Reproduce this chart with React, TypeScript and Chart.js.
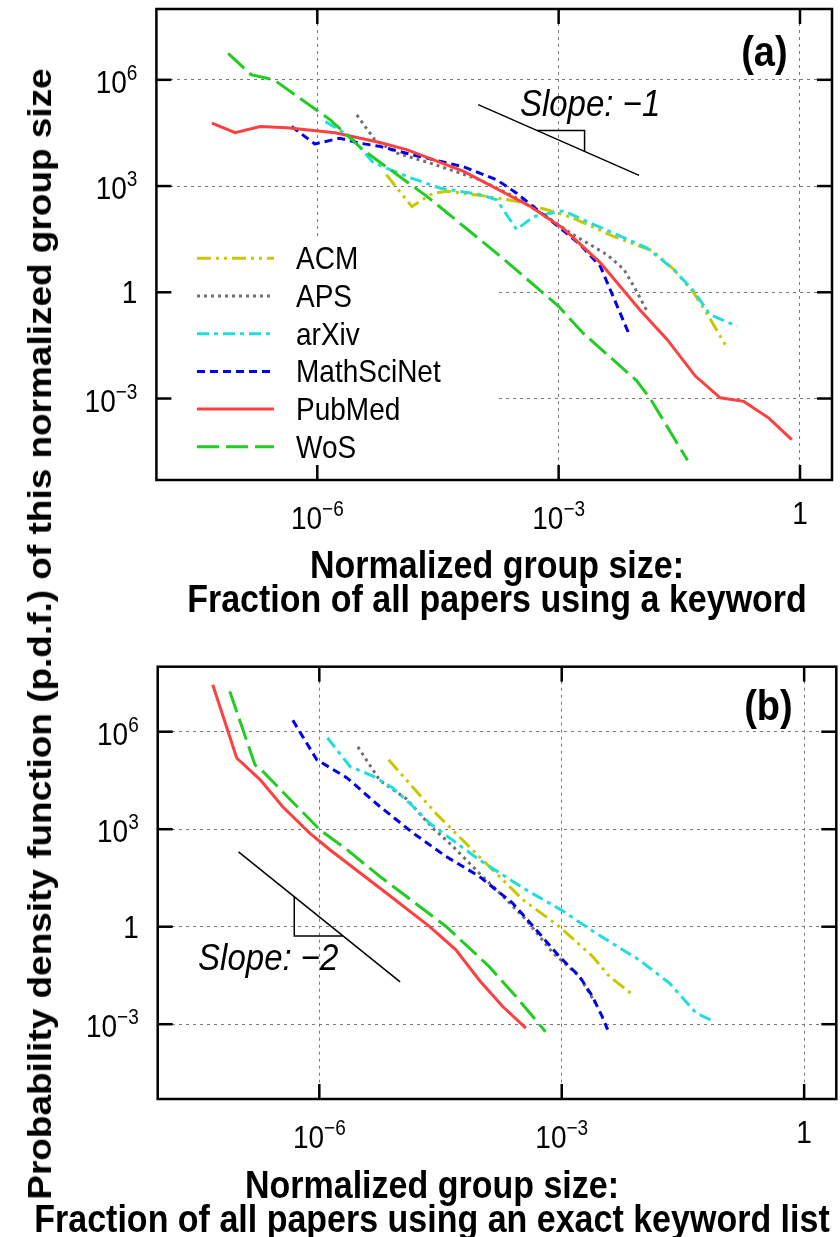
import React, { useEffect, useRef } from 'react';
import { Chart, registerables } from 'chart.js';

Chart.register(...registerables);

// ---------------- data ----------------
const SERIES_NAMES = ['ACM', 'APS', 'arXiv', 'MathSciNet', 'PubMed', 'WoS'];

// Panel (a): fraction of all papers using a keyword
const ACM_A_X = [7.2e-6, 1.5e-5, 2.75e-5, 4.1e-5, 1.3e-4, 3.0e-4, 7.1e-4, 1.5e-3, 4.8e-3, 1.5e-2, 2.7e-2, 4.8e-2, 6.9e-2, 0.118];
const ACM_A_Y = [2100, 263, 631, 708, 513, 372, 214, 126, 38, 14.5, 4.4, 0.95, 0.26, 0.033];

const APS_A_X = [3.1e-6, 5.2e-6, 9.8e-6, 2.5e-5, 1.05e-4, 2.75e-4, 7.1e-4, 1.5e-3, 4.0e-3, 6.5e-3, 9.3e-3, 1.26e-2];
const APS_A_Y = [1.02e5, 2.0e4, 8500, 4500, 1500, 513, 138, 43, 11.5, 4.4, 1.07, 0.29];

const ARXIV_A_X = [1.26e-6, 2.6e-6, 5.0e-6, 1.45e-5, 3.4e-5, 1.05e-4, 1.7e-4, 3.0e-4, 4.9e-4, 1.15e-3, 2.7e-3, 5.2e-3, 1.26e-2, 2.7e-2, 4.8e-2, 7.6e-2, 0.166];
const ARXIV_A_Y = [6.6e4, 2.5e4, 4500, 1700, 871, 575, 407, 59, 138, 200, 83, 43, 17.8, 4.4, 1.07, 0.234, 0.11];

const MSN_A_X = [4.8e-7, 9.3e-7, 1.9e-6, 3.4e-6, 6.0e-6, 1.55e-5, 6.6e-5, 1.7e-4, 3.0e-4, 5.4e-4, 1.0e-3, 1.86e-3, 3.3e-3, 7.4e-3];
const MSN_A_Y = [4.8e4, 1.55e4, 2.24e4, 1.62e4, 1.32e4, 7600, 3500, 1500, 631, 214, 71, 22, 5.4, 0.071];

const PUBMED_A_X = [4.9e-8, 9.5e-8, 1.95e-7, 4.2e-7, 1.66e-6, 6.0e-6, 1.29e-5, 6.6e-5, 4.4e-4, 1.15e-3, 3.3e-3, 1.02e-2, 2.24e-2, 5.0e-2, 0.102, 0.2, 0.41, 0.79];
const PUBMED_A_Y = [6.0e4, 3.2e4, 4.8e4, 4.4e4, 3.2e4, 1.7e4, 1.07e4, 2600, 269, 63, 6.8, 0.32, 0.046, 4.3e-3, 1.05e-3, 8.3e-4, 2.8e-4, 6.9e-5];

const WOS_A_X = [7.8e-8, 1.5e-7, 2.9e-7, 1.45e-6, 3.7e-6, 2.3e-5, 2.0e-4, 1.0e-3, 2.0e-3, 9.3e-3, 1.4e-2, 4.0e-2];
const WOS_A_Y = [5.6e6, 1.4e6, 1.0e6, 7.4e4, 1.05e4, 513, 9.3, 0.4, 0.071, 3.2e-3, 9.3e-4, 1.8e-5];

// Panel (b): fraction of all papers using an exact keyword list
const ACM_B_X = [7.2e-6, 2.8e-5, 9.5e-5, 3.3e-4, 9.3e-4, 2.4e-3, 3.9e-3, 7.1e-3];
const ACM_B_Y = [1.38e5, 3000, 145, 6.8, 1.02, 0.123, 0.0295, 9.1e-3];

const APS_B_X = [3.0e-6, 5.6e-6, 1.2e-5, 2.5e-5, 4.5e-5, 9.5e-5, 1.7e-4, 3.6e-4, 7.8e-4, 1.66e-3, 2.6e-3];
const APS_B_Y = [3.4e5, 3.2e4, 8500, 1120, 295, 44.7, 11, 1.66, 0.155, 0.0295, 4.5e-3];

const ARXIV_B_X = [1.26e-6, 2.4e-6, 4.6e-6, 8.1e-6, 1.45e-5, 2.3e-5, 9.5e-5, 3.6e-4, 9.8e-4, 2.6e-3, 9.1e-3, 2.14e-2, 4.6e-2, 7.6e-2];
const ARXIV_B_Y = [6.5e5, 8.5e4, 4.3e4, 1.86e4, 5000, 1550, 115, 13.8, 3.3, 0.65, 0.095, 0.0186, 2.2e-3, 1.23e-3];

const MSN_B_X = [4.7e-7, 9.3e-7, 2.2e-6, 5.6e-6, 1.45e-5, 3.7e-5, 9.5e-5, 2.45e-4, 5.2e-4, 9.3e-4, 1.66e-3, 2.4e-3, 3.16e-3, 3.7e-3];
const MSN_B_Y = [2.24e6, 1.38e5, 3.8e4, 5000, 759, 145, 35.5, 5.4, 0.65, 0.123, 0.0295, 7.2e-3, 1.74e-3, 6.8e-4];

const PUBMED_B_X = [4.8e-8, 9.5e-8, 1.86e-7, 3.5e-7, 7.6e-7, 1.35e-6, 5.6e-6, 2.3e-5, 4.9e-5, 9.5e-5, 1.86e-4, 3.6e-4];
const PUBMED_B_Y = [2.8e7, 1.55e5, 3.3e4, 5000, 759, 234, 15.5, 1.02, 0.195, 0.023, 3.5e-3, 7.6e-4];

const WOS_B_X = [7.8e-8, 1.6e-7, 2.0e-7, 4.0e-7, 1.02e-6, 2.2e-6, 5.6e-6, 1.2e-5, 3.7e-5, 1.26e-4, 2.7e-4, 6.3e-4];
const WOS_B_Y = [1.74e7, 9.5e4, 6.0e4, 1.02e4, 955, 234, 35.5, 8.5, 1.02, 0.06, 7.2e-3, 5.9e-4];

// slope guides (data coordinates)
const SLOPE_A_X = [1e-4, 1e-2];
const SLOPE_A_Y = [2e5, 2e3];
const TRI_A_X = [5.4e-4, 2.1e-3, 2.1e-3];
const TRI_A_Y = [3.7e4, 3.7e4, 9.5e3];
const SLOPE_B_X = [1e-7, 1e-5];
const SLOPE_B_Y = [200, 0.02];
const TRI_B_X = [4.9e-7, 4.9e-7, 1.95e-6];
const TRI_B_Y = [8.3, 0.52, 0.52];
const SLOPE_TEXT_A = 'Slope: −1';
const SLOPE_TEXT_A_POS = [3.3e-4, 9.5e4];
const SLOPE_TEXT_B = 'Slope: −2';
const SLOPE_TEXT_B_POS = [3.16e-8, 0.047];

// axes
const X_MIN = 1e-8;
const X_MAX = 2.5;
const Y_MIN = 5.0e-6;
const Y_MAX = 1e8;
const X_TICKS = [1e-6, 1e-3, 1];
const X_TICK_LABELS = ['10^−6', '10^−3', '1'];
const Y_TICKS = [1e6, 1e3, 1, 1e-3];
const Y_TICK_LABELS = ['10^6', '10^3', '1', '10^−3'];

const X_TITLE_A = ['Normalized group size:', 'Fraction of all papers using a keyword'];
const X_TITLE_B = ['Normalized group size:', 'Fraction of all papers using an exact keyword list'];
const Y_TITLE = 'Probability density function (p.d.f.) of this normalized group size';

// ---------------- styles ----------------
const SERIES_COLORS = ['#c8c800', '#707070', '#22dddd', '#0000ee', '#ff4040', '#22cc22'];
const SERIES_DASHES: number[][] = [[14, 5, 3, 5, 3, 5], [3, 4], [12, 5, 4, 5], [8, 5], [], [22, 7]];
const FAMILY = "'Liberation Sans', Arial, Helvetica, sans-serif";
const SY = 1.12;
const TICK_FONT = `28px ${FAMILY}`;
const EXP_FONT = `19px ${FAMILY}`;
const TITLE_FONT = `bold 34px ${FAMILY}`;
const LEGEND_FONT = `28px ${FAMILY}`;
const PANEL_FONT = `bold 38px ${FAMILY}`;
const SLOPE_FONT = `italic 33px ${FAMILY}`;

function sText(ctx: CanvasRenderingContext2D, text: string, x: number, y: number, font: string, align: CanvasTextAlign) {
  ctx.save();
  ctx.font = font;
  ctx.textAlign = align;
  ctx.textBaseline = 'alphabetic';
  ctx.fillStyle = '#000';
  ctx.translate(x, y);
  ctx.scale(1, SY);
  ctx.fillText(text, 0, 0);
  ctx.restore();
}

function powLabel(ctx: CanvasRenderingContext2D, label: string, x: number, y: number, align: 'center' | 'right') {
  const [base, exp] = label.split('^');
  ctx.font = TICK_FONT;
  const wb = ctx.measureText(base).width;
  let we = 0;
  if (exp) {
    ctx.font = EXP_FONT;
    we = ctx.measureText(exp).width;
  }
  const total = wb + we;
  const x0 = align === 'center' ? x - total / 2 : x - total;
  sText(ctx, base, x0, y, TICK_FONT, 'left');
  if (exp) sText(ctx, exp, x0 + wb, y - 13, EXP_FONT, 'left');
}

type Panel = {
  key: string;
  sets: [number[], number[]][];
  slope: [number[], number[]];
  tri: [number[], number[]];
  slopeText: string;
  slopeTextPos: number[];
  title: string[];
  titleX: number;
  titleY: number;
  label: string;
  legend: boolean;
  padding: { left: number; top: number; right: number; bottom: number };
};

const pts = (xs: number[], ys: number[]) => xs.map((x, i) => ({ x, y: ys[i] }));

function buildConfig(p: Panel): any {
  const datasets: any[] = p.sets.map(([xs, ys], i) => ({
    label: SERIES_NAMES[i],
    data: pts(xs, ys),
    borderColor: SERIES_COLORS[i],
    borderDash: SERIES_DASHES[i],
    borderWidth: 3,
    borderCapStyle: 'butt',
    showLine: true,
    pointRadius: 0,
    fill: false,
    tension: 0,
    order: 10 - i,
  }));
  datasets.push({ label: 'slope', data: pts(p.slope[0], p.slope[1]), borderColor: '#000', borderWidth: 1.5, showLine: true, pointRadius: 0, order: 0 });
  datasets.push({ label: 'tri', data: pts(p.tri[0], p.tri[1]), borderColor: '#000', borderWidth: 1.5, showLine: true, pointRadius: 0, order: 0 });

  const plugin = {
    id: 'decor' + p.key,
    beforeDatasetsDraw(chart: any) {
      if (!p.legend) return;
      const ctx = chart.ctx as CanvasRenderingContext2D;
      const a = chart.chartArea;
      ctx.save();
      ctx.fillStyle = '#fff';
      ctx.fillRect(a.left, 239, 498 - a.left, a.bottom - 239);
      ctx.restore();
    },
    afterDraw(chart: any) {
      const ctx = chart.ctx as CanvasRenderingContext2D;
      const a = chart.chartArea;
      const xs = chart.scales.x;
      const ys = chart.scales.y;
      ctx.save();
      ctx.strokeStyle = '#000';
      ctx.lineWidth = 2.5;
      ctx.setLineDash([]);
      const seg = (x1: number, y1: number, x2: number, y2: number) => {
        ctx.beginPath();
        ctx.moveTo(x1, y1);
        ctx.lineTo(x2, y2);
        ctx.stroke();
      };
      X_TICKS.forEach((v) => {
        const px = xs.getPixelForValue(v);
        seg(px, a.bottom, px, a.bottom - 15);
        seg(px, a.top, px, a.top + 15);
      });
      Y_TICKS.forEach((v) => {
        const py = ys.getPixelForValue(v);
        seg(a.left, py, a.left + 15, py);
        seg(a.right, py, a.right - 15, py);
      });
      ctx.strokeRect(a.left, a.top, a.right - a.left, a.bottom - a.top);
      ctx.restore();

      X_TICK_LABELS.forEach((lab, i) => {
        const px = xs.getPixelForValue(X_TICKS[i]);
        powLabel(ctx, lab, px, a.bottom + (lab.includes('^') ? 49 : 44), 'center');
      });
      Y_TICK_LABELS.forEach((lab, i) => {
        const py = ys.getPixelForValue(Y_TICKS[i]);
        powLabel(ctx, lab, a.left - 19, py + (lab.includes('^') ? 13 : 11), 'right');
      });

      p.title.forEach((line, i) => sText(ctx, line, p.titleX, p.titleY + i * 34, TITLE_FONT, 'center'));

      const w = a.right - a.left;
      const h = a.bottom - a.top;
      sText(ctx, p.label, a.left + 0.9 * w, a.top + 0.098 * h + 11, PANEL_FONT, 'center');

      sText(ctx, p.slopeText, xs.getPixelForValue(p.slopeTextPos[0]), ys.getPixelForValue(p.slopeTextPos[1]), SLOPE_FONT, 'left');

      if (p.legend) {
        chart.data.datasets.slice(0, SERIES_NAMES.length).forEach((ds: any, i: number) => {
          const yRow = 258.3 + i * 37.7;
          ctx.save();
          ctx.strokeStyle = ds.borderColor;
          ctx.lineWidth = ds.borderWidth;
          ctx.setLineDash(ds.borderDash);
          ctx.lineCap = 'butt';
          ctx.beginPath();
          ctx.moveTo(197, yRow);
          ctx.lineTo(274, yRow);
          ctx.stroke();
          ctx.restore();
          sText(ctx, ds.label, 296, yRow + 11, LEGEND_FONT, 'left');
        });
      }
    },
  };

  const axis = (min: number, max: number, ticks: number[]) => ({
    type: 'logarithmic',
    min,
    max,
    afterBuildTicks: (s: any) => {
      s.ticks = ticks.map((v) => ({ value: v }));
    },
    ticks: { display: false },
    grid: { display: true, drawTicks: false, color: '#7a7a7a', lineWidth: 1 },
    border: { display: false, dash: [3, 4] },
  });

  return {
    type: 'scatter',
    data: { datasets },
    options: {
      responsive: false,
      animation: false,
      devicePixelRatio: 1,
      events: [],
      layout: { padding: p.padding },
      plugins: { legend: { display: false }, tooltip: { enabled: false }, title: { display: false } },
      scales: { x: axis(X_MIN, X_MAX, X_TICKS), y: axis(Y_MIN, Y_MAX, Y_TICKS) },
    },
    plugins: [plugin],
  };
}

const PANEL_A: Panel = {
  key: 'a',
  sets: [[ACM_A_X, ACM_A_Y], [APS_A_X, APS_A_Y], [ARXIV_A_X, ARXIV_A_Y], [MSN_A_X, MSN_A_Y], [PUBMED_A_X, PUBMED_A_Y], [WOS_A_X, WOS_A_Y]],
  slope: [SLOPE_A_X, SLOPE_A_Y],
  tri: [TRI_A_X, TRI_A_Y],
  slopeText: SLOPE_TEXT_A,
  slopeTextPos: SLOPE_TEXT_A_POS,
  title: X_TITLE_A,
  titleX: 497,
  titleY: 578,
  label: '(a)',
  legend: true,
  padding: { left: 156.4, top: 9, right: 8, bottom: 150 },
};

const PANEL_B: Panel = {
  key: 'b',
  sets: [[ACM_B_X, ACM_B_Y], [APS_B_X, APS_B_Y], [ARXIV_B_X, ARXIV_B_Y], [MSN_B_X, MSN_B_Y], [PUBMED_B_X, PUBMED_B_Y], [WOS_B_X, WOS_B_Y]],
  slope: [SLOPE_B_X, SLOPE_B_Y],
  tri: [TRI_B_X, TRI_B_Y],
  slopeText: SLOPE_TEXT_B,
  slopeTextPos: SLOPE_TEXT_B_POS,
  title: X_TITLE_B,
  titleX: 432,
  titleY: 568,
  label: '(b)',
  legend: false,
  padding: { left: 157.7, top: 36.7, right: 3.7, bottom: 138 },
};

export default function App() {
  const refA = useRef<HTMLCanvasElement>(null);
  const refB = useRef<HTMLCanvasElement>(null);
  useEffect(() => {
    const a = new Chart(refA.current as HTMLCanvasElement, buildConfig(PANEL_A));
    const b = new Chart(refB.current as HTMLCanvasElement, buildConfig(PANEL_B));
    return () => {
      a.destroy();
      b.destroy();
    };
  }, []);
  return (
    <div style={{ position: 'absolute', left: 0, top: 0, width: 840, height: 1237, background: '#fff', overflow: 'hidden' }}>
      <canvas ref={refA} width={840} height={630} style={{ position: 'absolute', left: 0, top: 0, width: 840, height: 630 }} />
      <canvas ref={refB} width={840} height={607} style={{ position: 'absolute', left: 0, top: 630, width: 840, height: 607 }} />
      <div
        style={{
          position: 'absolute',
          left: 40,
          top: 634,
          transform: 'translate(-50%, -50%) rotate(-90deg) scaleX(1.12)',
          font: `bold 33px ${FAMILY}`,
          whiteSpace: 'nowrap',
          color: '#000',
          lineHeight: 'normal',
        }}
      >
        {Y_TITLE}
      </div>
    </div>
  );
}
